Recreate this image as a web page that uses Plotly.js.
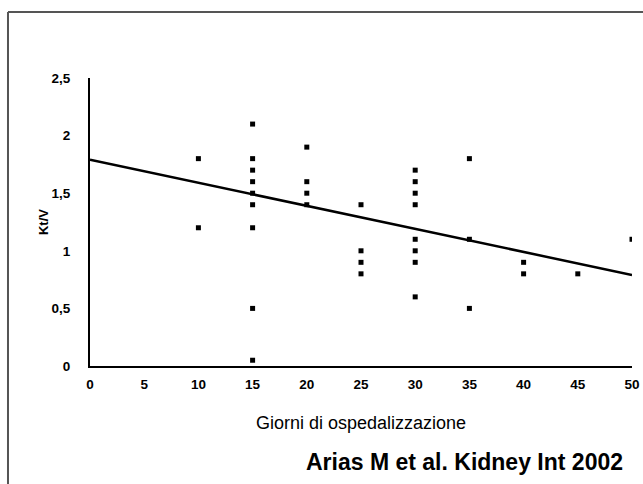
<!DOCTYPE html>
<html><head><meta charset="utf-8">
<script src="https://cdn.plot.ly/plotly-3.0.1.min.js"></script>
<style>html,body{margin:0;padding:0;background:#fff}#chart{width:643px;height:484px}</style>
</head><body><div id="chart"></div>
<script>
// Scatter data: days of hospitalization vs Kt/V
const days = [10,10, 15,15,15,15,15,15,15,15,15, 20,20,20,20, 25,25,25,25, 30,30,30,30,30,30,30,30, 35,35,35, 40,40, 45, 50];
const ktv  = [1.8,1.2, 2.1,1.8,1.7,1.6,1.5,1.4,1.2,0.5,0.05, 1.9,1.6,1.5,1.4, 1.4,1.0,0.9,0.8, 1.7,1.6,1.5,1.4,1.1,1.0,0.9,0.6, 1.8,1.1,0.5, 0.9,0.8, 0.8, 1.1];
// Linear trend line endpoints
const trendX = [0, 50];
const trendY = [1.79, 0.79];
const xTicks = [0,5,10,15,20,25,30,35,40,45,50];
const yTicks = [0,0.5,1,1.5,2,2.5];

const font = 'Liberation Sans, Arial, sans-serif';
const data = [
  {x: trendX, y: trendY, mode: 'lines', line: {color: '#000', width: 2.5}, hoverinfo: 'skip'},
  {x: days, y: ktv, mode: 'markers', marker: {symbol: 'square', size: 5, color: '#000'}}
];
const layout = {
  width: 643, height: 484,
  margin: {l: 90, r: 11, t: 78, b: 118},
  paper_bgcolor: '#fff', plot_bgcolor: '#fff',
  showlegend: false,
  separators: ',.',
  font: {family: font, color: '#000'},
  xaxis: {
    range: [0, 50], tickvals: xTicks, showgrid: false, zeroline: false,
    showline: true, linecolor: '#000', linewidth: 2, ticks: '',
    ticklabelstandoff: 5,
    tickfont: {size: 13.5, weight: 'bold', family: font},
    title: {text: 'Giorni di ospedalizzazione', font: {size: 18, family: font}, standoff: 25}
  },
  yaxis: {
    range: [0, 2.5], tickvals: yTicks, showgrid: false, zeroline: false,
    showline: true, linecolor: '#000', linewidth: 2, ticks: '',
    ticklabelstandoff: 15,
    tickfont: {size: 13.5, weight: 'bold', family: font},
    title: {text: 'Kt/V', font: {size: 13, weight: 'bold', family: font}, standoff: 0}
  },
  shapes: [
    {type: 'line', xref: 'paper', yref: 'paper', x0: -0.1513, x1: -0.1513, y0: 1.229, y1: -0.45, line: {color: '#555', width: 2}},
    {type: 'line', xref: 'paper', yref: 'paper', x0: -0.1513, x1: 1.03, y0: 1.229, y1: 1.229, line: {color: '#555', width: 2}}
  ],
  annotations: [
    {text: 'Arias M et al. Kidney Int 2002', xref: 'paper', yref: 'paper', x: 0.987, y: -0.335,
     xanchor: 'right', yanchor: 'middle', showarrow: false, font: {size: 23, weight: 'bold', family: font}}
  ]
};
Plotly.newPlot('chart', data, layout, {displayModeBar: false, staticPlot: true});
</script></body></html>
